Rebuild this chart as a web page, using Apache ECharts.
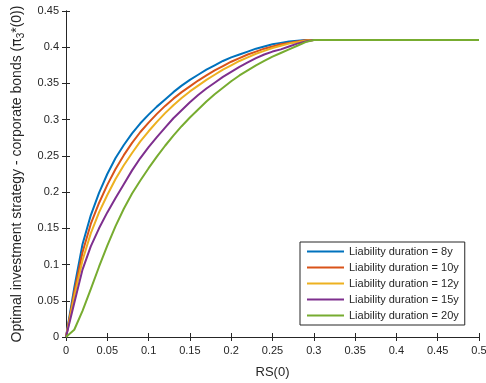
<!DOCTYPE html>
<html>
<head>
<meta charset="utf-8">
<script src="https://cdn.jsdelivr.net/npm/echarts@6/dist/echarts.min.js"></script>
<style>
  html, body { margin: 0; padding: 0; background: #fff; }
  #chart { width: 486px; height: 383px; }
</style>
</head>
<body>
<div id="chart"></div>
<script>
// RS(0) grid, 0 to 0.3 in steps of 0.01, then the flat part up to 0.5
const rs = [0, 0.01, 0.02, 0.03, 0.04, 0.05, 0.06, 0.07, 0.08, 0.09,
            0.1, 0.11, 0.12, 0.13, 0.14, 0.15, 0.16, 0.17, 0.18, 0.19,
            0.2, 0.21, 0.22, 0.23, 0.24, 0.25, 0.26, 0.27, 0.28, 0.29,
            0.3, 0.5];

const names = [
  "Liability duration = 8y",
  "Liability duration = 10y",
  "Liability duration = 12y",
  "Liability duration = 15y",
  "Liability duration = 20y"
];

const dur8  = [0, 0.068, 0.128, 0.168, 0.199, 0.225, 0.247, 0.265, 0.281, 0.295,
               0.307, 0.318, 0.328, 0.338, 0.347, 0.355, 0.362, 0.369, 0.375, 0.381,
               0.386, 0.390, 0.394, 0.398, 0.401, 0.404, 0.406, 0.408, 0.409, 0.41,
               0.41, 0.41];
const dur10 = [0, 0.062, 0.117, 0.156, 0.185, 0.210, 0.232, 0.251, 0.268, 0.283,
               0.296, 0.308, 0.319, 0.329, 0.338, 0.346, 0.354, 0.361, 0.368, 0.374,
               0.380, 0.385, 0.390, 0.394, 0.398, 0.401, 0.404, 0.406, 0.408, 0.4095,
               0.41, 0.41];
const dur12 = [0, 0.056, 0.106, 0.143, 0.172, 0.196, 0.218, 0.237, 0.254, 0.270,
               0.284, 0.297, 0.309, 0.320, 0.330, 0.339, 0.347, 0.355, 0.362, 0.369,
               0.375, 0.381, 0.386, 0.391, 0.395, 0.399, 0.402, 0.405, 0.407, 0.409,
               0.41, 0.41];
const dur15 = [0, 0.047, 0.093, 0.125, 0.150, 0.172, 0.192, 0.211, 0.230, 0.247,
               0.262, 0.276, 0.289, 0.302, 0.313, 0.324, 0.334, 0.343, 0.351, 0.359,
               0.366, 0.373, 0.379, 0.385, 0.390, 0.394, 0.397, 0.401, 0.405, 0.408,
               0.41, 0.41];
const dur20 = [0, 0.010, 0.036, 0.066, 0.097, 0.126, 0.153, 0.177, 0.198, 0.216,
               0.233, 0.249, 0.264, 0.278, 0.291, 0.303, 0.314, 0.325, 0.335, 0.344,
               0.353, 0.361, 0.368, 0.375, 0.381, 0.387, 0.392, 0.397, 0.402, 0.407,
               0.41, 0.41];

const colors = ["#0072BD", "#D95319", "#EDB120", "#7E2F8E", "#77AC30"];
const allSeries = [dur8, dur10, dur12, dur15, dur20];

const chart = echarts.init(document.getElementById("chart"), null, { renderer: "canvas" });

const axisColor = "#262626";
const font = "Liberation Sans, Arial, sans-serif";

const option = {
  animation: false,
  color: colors,
  grid: { left: 66, right: 7, top: 11, bottom: 46, outerBoundsMode: "none" },
  legend: {
    orient: "vertical",
    left: 300,
    top: 242,
    data: names,
    icon: "rect",
    itemWidth: 37,
    itemHeight: 2,
    itemGap: 3,
    padding: [3, 6, 3, 7],
    borderColor: axisColor,
    borderWidth: 1,
    backgroundColor: "#fff",
    textStyle: { fontFamily: font, fontSize: 11, color: axisColor, lineHeight: 13 }
  },
  xAxis: [
    {
      type: "value",
      min: 0,
      max: 0.5,
      interval: 0.05,
      name: "RS(0)",
      nameLocation: "middle",
      nameGap: 29,
      nameTextStyle: { fontFamily: font, fontSize: 13, color: axisColor },
      axisLine: { lineStyle: { color: axisColor, width: 1 } },
      axisTick: { inside: true, length: 4, lineStyle: { color: axisColor } },
      axisLabel: {
        fontFamily: font, fontSize: 11, color: axisColor, margin: 8,
        formatter: (v) => String(+v.toFixed(2))
      },
      splitLine: { show: false }
    },
    {
      type: "value",
      position: "top",
      min: 0,
      max: 0.5,
      interval: 0.05,
      axisLine: { lineStyle: { color: axisColor, width: 1 } },
      axisTick: { inside: true, length: 4, lineStyle: { color: axisColor } },
      axisLabel: { show: false },
      splitLine: { show: false }
    }
  ],
  yAxis: [
    {
      type: "value",
      min: 0,
      max: 0.45,
      interval: 0.05,
      name: "Optimal investment strategy - corporate bonds ({sym|π}{sub|3}*(0))",
      nameLocation: "middle",
      nameGap: 40,
      nameTextStyle: {
        fontFamily: font, fontSize: 14, color: axisColor,
        rich: {
          sym: { fontFamily: "DejaVu Sans", fontSize: 14, color: axisColor },
          sub: { fontFamily: font, fontSize: 10, color: axisColor, verticalAlign: "bottom", padding: [8, 0, 0, 0] }
        }
      },
      axisLine: { lineStyle: { color: axisColor, width: 1 } },
      axisTick: { inside: true, length: 4, lineStyle: { color: axisColor } },
      axisLabel: {
        fontFamily: font, fontSize: 11, color: axisColor, margin: 7,
        formatter: (v) => String(+v.toFixed(2))
      },
      splitLine: { show: false }
    },
    {
      type: "value",
      position: "right",
      min: 0,
      max: 0.45,
      interval: 0.05,
      axisLine: { show: true, lineStyle: { color: axisColor, width: 1 } },
      axisTick: { show: true, inside: true, length: 4, lineStyle: { color: axisColor } },
      axisLabel: { show: false },
      splitLine: { show: false }
    }
  ],
  series: allSeries.map((vals, i) => ({
    name: names[i],
    type: "line",
    data: rs.map((x, j) => [x, vals[j]]),
    showSymbol: false,
    symbol: "none",
    smooth: false,
    lineStyle: { width: 2, color: colors[i] },
    z: 2 + i
  }))
};

chart.setOption(option);
</script>
</body>
</html>
